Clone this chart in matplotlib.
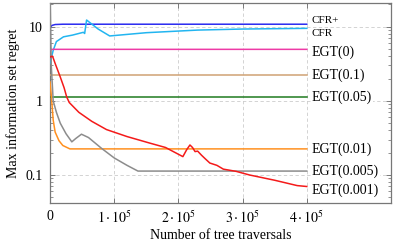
import matplotlib
matplotlib.use("Agg")
import matplotlib.pyplot as plt
from matplotlib.ticker import FixedLocator, LogLocator, NullFormatter

plt.rcParams['font.family'] = ['Liberation Serif', 'DejaVu Serif']
plt.rcParams['mathtext.fontset'] = 'stix'

# data (x = number of tree traversals)
cfrp_x = [0, 3000, 8000, 20000, 60000, 400000]
cfrp_y = [9.6, 10.4, 10.7, 10.8, 10.8, 10.8]

cfr_x = [0, 5000, 10000, 21000, 35000, 52000, 54000, 57000, 75000, 93000, 150000, 230000, 300000, 400000]
cfr_y = [3.2, 4.8, 6.3, 7.3, 7.7, 8.4, 8.1, 12.3, 9.3, 7.5, 8.3, 9.0, 9.3, 9.5]

egt0_x = [0, 2000, 400000]
egt0_y = [4.8, 4.95, 4.95]

egt01_x = [0, 400000]
egt01_y = [2.22, 2.22]

egt005_x = [0, 400000]
egt005_y = [1.11, 1.11]

egt001_x = [0, 2000, 5000, 8000, 14000, 20000, 31000, 400000]
egt001_y = [1.8, 1.2, 0.55, 0.38, 0.29, 0.25, 0.225, 0.225]

egt0005_x = [0, 2000, 5000, 10000, 16000, 25000, 34000, 40000, 49000, 60000, 80000, 100000, 120000, 137000, 400000]
egt0005_y = [30, 3.0, 1.0, 0.7, 0.5, 0.36, 0.28, 0.31, 0.355, 0.32, 0.23, 0.17, 0.135, 0.113, 0.113]

egt0001_x = [0, 4000, 8000, 16000, 22000, 26000, 30000, 45000, 65000, 88000, 120000, 155000, 180000, 207000,
             213000, 218000, 222000, 226000, 230000, 236000, 242000, 249000, 260000, 270000, 290000, 311000,
             350000, 385000, 400000]
egt0001_y = [3.9, 4.0, 3.2, 2.1, 1.5, 1.13, 0.95, 0.7, 0.53, 0.41, 0.33, 0.27, 0.235, 0.177,
             0.22, 0.254, 0.235, 0.207, 0.21, 0.185, 0.165, 0.145, 0.135, 0.12, 0.112, 0.1,
             0.085, 0.072, 0.07]

series = [
    ("CFR+", cfrp_x, cfrp_y, "#2b2bf0", 12.3, 8),
    ("CFR", cfr_x, cfr_y, "#22b5f0", 8.1, 8),
    ("EGT(0)", egt0_x, egt0_y, "#ee3aa6", 4.5, 10),
    ("EGT(0.1)", egt01_x, egt01_y, "#cfa274", 2.22, 10),
    ("EGT(0.05)", egt005_x, egt005_y, "#1f7a1f", 1.11, 10),
    ("EGT(0.01)", egt001_x, egt001_y, "#ff9020", 0.222, 10),
    ("EGT(0.005)", egt0005_x, egt0005_y, "#8c8c8c", 0.111, 10),
    ("EGT(0.001)", egt0001_x, egt0001_y, "#f41a1a", 0.063, 10),
]

fig = plt.figure(figsize=(3.98, 2.46), dpi=100)
ax = fig.add_axes([0.1256, 0.175, 0.8565, 0.813])

for name, xs, ys, col, ly, fs in series:
    ax.plot(xs, ys, color=col, lw=1.1, zorder=3)
for name, xs, ys, col, ly, fs in series:
    ax.text(408000, ly, name, fontsize=fs, va='center', ha='left', zorder=5,
            bbox=dict(facecolor='white', edgecolor='none', pad=0.5))

ax.set_yscale('log')
ax.set_xlim(0, 531000)
ax.set_ylim(0.042, 20.9)

ax.xaxis.set_major_locator(FixedLocator([0, 1e5, 2e5, 3e5, 4e5]))
ax.set_xticklabels(['0', r'$1\cdot10^5$', r'$2\cdot10^5$', r'$3\cdot10^5$', r'$4\cdot10^5$'])
ax.yaxis.set_major_locator(FixedLocator([0.1, 1, 10]))
ax.set_yticklabels(['0.1', '1', '10'])
ax.yaxis.set_minor_locator(LogLocator(base=10, subs=range(2, 10)))
ax.yaxis.set_minor_formatter(NullFormatter())

ax.grid(True, which='major', color='#cccccc', ls=(0, (4, 3)), lw=0.6, zorder=1)
ax.tick_params(direction='in', which='both', top=True, right=True, labelsize=10, colors='#666666',
               labelcolor='black', pad=5)
ax.tick_params(which='major', length=3.5, width=0.6)
ax.tick_params(which='minor', length=2, width=0.5)
for s in ax.spines.values():
    s.set_color('#777777')
    s.set_linewidth(0.9)

ax.set_xlabel('Number of tree traversals', fontsize=10, labelpad=2)
ax.set_ylabel('Max information set regret', fontsize=10, labelpad=4)

fig.savefig('out.png', dpi=100)
